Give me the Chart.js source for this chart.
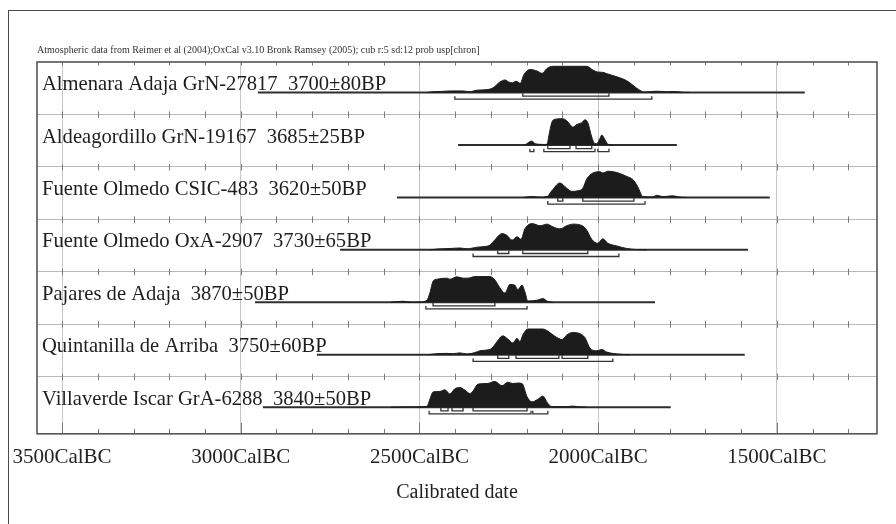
<!DOCTYPE html>
<html>
<head>
<meta charset="utf-8">
<script src="https://cdn.jsdelivr.net/npm/chart.js@4"></script>
<style>
  html, body { margin: 0; padding: 0; background: #fff; }
  .page { position: relative; width: 896px; height: 524px; overflow: hidden; }
  /* outer page frame, runs off the right and bottom edge */
  .frame { position: absolute; left: 8px; top: 10px; width: 1000px; height: 1000px;
           border-left: 1.6px solid #4a4a4a; border-top: 1.6px solid #4a4a4a; }
  #chart { position: absolute; left: 0; top: 0; }
</style>
</head>
<body>
<div class="page">
  <div class="frame"></div>
  <canvas id="chart" width="896" height="524"></canvas>
</div>
<script>
// ── Data read off the OxCal multiplot ──
// years are cal BC, probabilities are % of each sample's own peak
const labels = [
    'Almenara Adaja GrN-27817  3700\u00b180BP',
    'Aldeagordillo GrN-19167  3685\u00b125BP',
    'Fuente Olmedo CSIC-483  3620\u00b150BP',
    'Fuente Olmedo OxA-2907  3730\u00b165BP',
    'Pajares de Adaja  3870\u00b150BP',
    'Quintanilla de Arriba  3750\u00b160BP',
    'Villaverde Iscar GrA-6288  3840\u00b150BP'
];

// horizontal line under each distribution (from, to)
const lineFrom = [2952, 2392, 2563, 2722, 2960, 2787, 2938];
const lineTo   = [1422, 1780, 1520, 1581, 1841, 1590, 1797];

const probYears = [
    [2480, 2462, 2440, 2415, 2378, 2360, 2339, 2311, 2294, 2275, 2261, 2250, 2240, 2230, 2218, 2208, 2190, 2171, 2157, 2143, 2127, 2088, 2032, 2015, 2001, 1987, 1976, 1948, 1920, 1903, 1883, 1870, 1836, 1808, 1791, 1763, 1744],
    [2205, 2185, 2177, 2150, 2143, 2138, 2130, 2121, 2099, 2088, 2079, 2071, 2060, 2046, 2037, 2029, 2018, 2009, 2004, 1995, 1990, 1981, 1973, 1959],
    [2210, 2185, 2163, 2143, 2130, 2107, 2088, 2074, 2057, 2043, 2032, 2015, 1995, 1987, 1973, 1948, 1920, 1903, 1889, 1875, 1847, 1836, 1819, 1791, 1771, 1752],
    [2470, 2451, 2415, 2387, 2367, 2339, 2322, 2303, 2289, 2269, 2255, 2241, 2227, 2216, 2205, 2185, 2163, 2143, 2127, 2107, 2088, 2071, 2046, 2032, 2018, 2001, 1987, 1973, 1948, 1920, 1892, 1864],
    [2580, 2546, 2521, 2499, 2479, 2471, 2462, 2451, 2423, 2415, 2395, 2378, 2364, 2345, 2303, 2289, 2275, 2261, 2247, 2233, 2225, 2213, 2205, 2197, 2171, 2155, 2141, 2127],
    [2475, 2451, 2423, 2406, 2387, 2367, 2345, 2331, 2311, 2297, 2283, 2267, 2253, 2239, 2227, 2219, 2211, 2197, 2155, 2141, 2121, 2101, 2088, 2071, 2051, 2037, 2023, 2004, 1990, 1976, 1959, 1931, 1911],
    [2580, 2518, 2479, 2471, 2462, 2443, 2429, 2415, 2401, 2387, 2373, 2359, 2350, 2336, 2311, 2289, 2269, 2253, 2239, 2225, 2213, 2199, 2185, 2169, 2155, 2141, 2130, 2088, 2071, 2051, 2032]
];
const probValues = [
    [0, 3, 4, 6, 6, 3, 9, 11, 18, 40, 48, 40, 37, 43, 35, 68, 88, 82, 73, 92, 100, 100, 100, 86, 78, 77, 72, 60, 45, 28, 8, 2, 5, 3, 4, 1, 0],
    [0, 15, 5, 2, 3, 35, 85, 98, 100, 92, 78, 68, 78, 85, 96, 85, 30, 5, 5, 25, 38, 20, 3, 0],
    [0, 3, 1, 3, 25, 55, 35, 23, 25, 35, 70, 93, 98, 93, 100, 95, 80, 68, 40, 3, 2, 8, 3, 6, 1, 0],
    [0, 3, 5, 7, 4, 10, 12, 18, 38, 62, 55, 37, 50, 40, 80, 100, 92, 98, 88, 80, 92, 98, 93, 75, 40, 25, 42, 25, 15, 5, 1, 0],
    [0, 4, 0, 1, 8, 35, 80, 88, 92, 88, 97, 92, 92, 98, 98, 85, 55, 35, 68, 65, 48, 65, 40, 5, 8, 14, 3, 0],
    [0, 4, 5, 4, 7, 3, 8, 15, 18, 25, 50, 72, 60, 45, 62, 50, 75, 98, 98, 90, 70, 58, 75, 85, 80, 65, 25, 15, 20, 10, 5, 1, 0],
    [0, 1, 3, 30, 58, 60, 66, 50, 70, 75, 65, 52, 62, 88, 90, 98, 82, 95, 90, 92, 90, 40, 20, 30, 42, 15, 2, 2, 4, 1, 0]
];

// highest posterior density ranges (from, to)
const range68 = [
    [[2211, 1970]],
    [[2141, 2079], [2062, 2018]],
    [[2113, 2099], [2043, 1900]],
    [[2281, 2250], [2211, 2029]],
    [[2462, 2289]],
    [[2281, 2250], [2230, 2110], [2101, 2029]],
    [[2440, 2420], [2409, 2378], [2350, 2199]]
];
const range95 = [
    [[2401, 1850]],
    [[2191, 2180], [2152, 2009], [2001, 1970]],
    [[2141, 1869]],
    [[2350, 1942]],
    [[2482, 2199]],
    [[2350, 1959]],
    [[2473, 2188], [2183, 2141]]
];

const majorTicks = [1500, 2000, 2500, 3000, 3500];
const headerText = 'Atmospheric data from Reimer et al (2004);OxCal v3.10 Bronk Ramsey (2005); cub r:5 sd:12 prob usp[chron]';
const axisTitle = 'Calibrated date';

// ── Layout constants (rows are 1 unit tall on the y scale, top row at 6..7) ──
const ROWS = labels.length;
const BASE_OFFSET = 0.582;   // baseline sits this far below the row's top line
const PEAK = 0.5;            // height of a 100% peak
const SERIF = '"Liberation Serif", "Times New Roman", serif';

function rowBase(i) { return ROWS - i - BASE_OFFSET; }

// builds ⊔ shaped bracket polylines for a row, null breaks between brackets
function bracketPoints(ranges, base, top, bottom) {
    const pts = [];
    ranges.forEach(([a, b]) => {
        pts.push({ x: a, y: base - top }, { x: a, y: base - bottom },
                 { x: b, y: base - bottom }, { x: b, y: base - top }, { x: b, y: null });
    });
    return pts;
}

const datasets = [];
labels.forEach((_, i) => {
    const base = rowBase(i);
    // probability distribution, filled down to the row baseline
    datasets.push({
        data: probYears[i].map((yr, k) => ({ x: yr, y: base + probValues[i][k] / 100 * PEAK })),
        borderColor: '#1c1c1c',
        borderWidth: 1,
        backgroundColor: '#1c1c1c',
        fill: { value: base },
        pointRadius: 0,
        cubicInterpolationMode: 'monotone'
    });
    // baseline
    datasets.push({
        data: [{ x: lineFrom[i], y: base }, { x: lineTo[i], y: base }],
        borderColor: '#2e2e2e',
        borderWidth: 2,
        pointRadius: 0,
        fill: false
    });
    // 68.2% and 95.4% range brackets
    datasets.push({
        data: bracketPoints(range68[i], base, 0.012, 0.07),
        borderColor: '#333',
        borderWidth: 1.3,
        pointRadius: 0,
        fill: false,
        spanGaps: false
    });
    datasets.push({
        data: bracketPoints(range95[i], base, 0.07, 0.127),
        borderColor: '#333',
        borderWidth: 1.3,
        pointRadius: 0,
        fill: false,
        spanGaps: false
    });
});

// ── Row labels, inward tick marks and plot frame ──
const oxcalDecor = {
    id: 'oxcalDecor',
    beforeDatasetsDraw(chart) {
        const { ctx, chartArea: area, scales: { x, y } } = chart;
        ctx.save();

        // little tick marks every 100 years on each row separator
        ctx.strokeStyle = '#7a7a7a';
        ctx.lineWidth = 1;
        ctx.beginPath();
        for (let yr = 1300; yr <= 3500; yr += 100) {
            const px = Math.round(x.getPixelForValue(yr)) + 0.5;
            for (let r = 1; r <= ROWS; r++) {
                const py = y.getPixelForValue(r);
                ctx.moveTo(px, r === ROWS ? py : py - 3);
                ctx.lineTo(px, py + 3.5);
            }
            // bottom axis ticks point up into the plot
            const len = majorTicks.includes(yr) ? 11 : 5;
            ctx.moveTo(px, area.bottom);
            ctx.lineTo(px, area.bottom - len);
        }
        ctx.stroke();

        // frame round the plot
        ctx.strokeStyle = '#555';
        ctx.lineWidth = 1.6;
        ctx.strokeRect(area.left, area.top, area.right - area.left, area.bottom - area.top);

        // sample names sit just above their baseline; the baseline is drawn over them
        ctx.fillStyle = '#1e1e1e';
        ctx.font = '20.6px ' + SERIF;
        ctx.textBaseline = 'alphabetic';
        labels.forEach((label, i) => {
            ctx.fillText(label, area.left + 5, y.getPixelForValue(rowBase(i)) - 2.4);
        });
        ctx.restore();
    }
};

new Chart(document.getElementById('chart'), {
    type: 'line',
    data: { datasets },
    options: {
        responsive: false,
        animation: false,
        layout: { padding: { left: 37, right: 19, top: 44, bottom: 19 } },
        plugins: {
            legend: { display: false },
            tooltip: { enabled: false },
            title: {
                display: true,
                text: headerText,
                align: 'start',
                color: '#333',
                font: { family: SERIF, size: 10, weight: 'normal' },
                padding: { top: 0, bottom: 6 }
            }
        },
        scales: {
            x: {
                type: 'linear',
                reverse: true,
                min: 1220,
                max: 3570,
                border: { display: false },
                grid: {
                    drawTicks: false,
                    color: c => (majorTicks.includes(c.tick.value) ? '#c6c6c6' : 'rgba(0,0,0,0)'),
                    lineWidth: 1
                },
                ticks: {
                    stepSize: 100,
                    includeBounds: false,
                    autoSkip: false,
                    maxRotation: 0,
                    padding: 11,
                    color: '#222',
                    font: { family: SERIF, size: 21 },
                    callback: v => (majorTicks.includes(v) ? v + 'CalBC' : '')
                },
                title: {
                    display: true,
                    text: axisTitle,
                    color: '#222',
                    font: { family: SERIF, size: 20 },
                    padding: { top: 0, bottom: 0 }
                }
            },
            y: {
                type: 'linear',
                min: -0.09,
                max: ROWS,
                border: { display: false },
                grid: {
                    drawTicks: false,
                    color: c => (Number.isInteger(c.tick.value) && c.tick.value >= 1 && c.tick.value < ROWS
                        ? '#b8b8b8' : 'rgba(0,0,0,0)'),
                    lineWidth: 1
                },
                ticks: { display: false, stepSize: 1 }
            }
        }
    },
    plugins: [oxcalDecor]
});
</script>
</body>
</html>
